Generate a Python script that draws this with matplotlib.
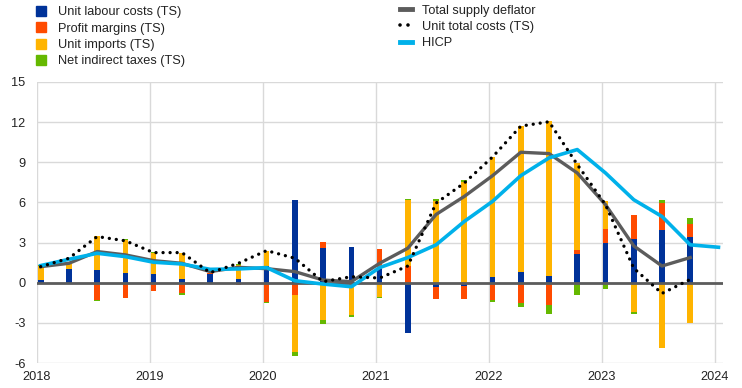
import numpy as np
import matplotlib
matplotlib.use("Agg")
import matplotlib.pyplot as plt
from matplotlib.patches import Patch
from matplotlib.lines import Line2D

# -------------------------------------------------------------------
# DATA (quarterly, 2018Q1 - 2023Q4; HICP up to 2024Q1)
# -------------------------------------------------------------------
quarters = [f"{y}Q{q}" for y in range(2018, 2024) for q in range(1, 5)]

unit_labour = [0.20, 1.03, 0.95, 0.75, 0.68, 0.28, 0.63, 0.28,
               1.25, 6.20, 2.62, 2.68, 1.00, -3.75, -0.30, -0.22,
               0.43, 0.80, 0.50, 2.15, 2.95, 3.28, 3.95, 3.40]
profit_margins = [0.00, -0.12, -1.30, -1.12, -0.62, -0.80, 0.10, -0.20,
                  -1.42, -0.92, 0.43, 0.00, 1.50, 1.25, -0.92, -1.00,
                  -1.30, -1.50, -1.67, 0.30, 1.08, 1.80, 2.00, 1.00]
unit_imports = [1.05, 0.35, 2.55, 2.45, 1.57, 1.92, 0.00, 1.05,
                1.15, -4.25, -2.80, -2.42, -1.05, 4.95, 6.08, 7.53,
                8.97, 10.90, 11.58, 6.50, 2.05, -2.17, -4.87, -3.00]
indirect_taxes = [0.05, 0.00, -0.07, 0.05, 0.05, -0.10, 0.00, 0.05,
                  -0.08, -0.30, -0.27, -0.15, -0.07, 0.07, 0.19, 0.17,
                  -0.12, -0.30, -0.68, -0.90, -0.45, -0.15, 0.25, 0.45]

supply_deflator = [1.20, 1.45, 2.33, 2.08, 1.65, 1.45, 0.83, 1.15,
                   1.05, 0.83, 0.20, 0.08, 1.45, 2.58, 5.10, 6.45,
                   8.00, 9.75, 9.65, 8.20, 5.83, 2.75, 1.25, 1.88]
unit_total_costs = [1.20, 1.83, 3.45, 3.13, 2.25, 2.25, 0.75, 1.45,
                    2.40, 1.83, 0.08, 0.45, 0.35, 1.25, 5.95, 7.45,
                    9.40, 11.70, 12.03, 8.83, 5.83, 1.08, -0.80, 0.25]
hicp = [1.28, 1.75, 2.20, 1.95, 1.53, 1.40, 1.00, 1.03,
        1.13, 0.15, -0.10, -0.30, 1.13, 1.88, 2.83, 4.58,
        6.08, 8.00, 9.33, 9.95, 8.20, 6.20, 4.95, 2.83, 2.65]

year_ticks = list(range(2018, 2025))

# -------------------------------------------------------------------
# STYLE
# -------------------------------------------------------------------
plt.rcParams["font.family"] = ["Liberation Sans", "DejaVu Sans"]
plt.rcParams["axes.unicode_minus"] = False
FS = 9.2
C_ULC = "#003299"
C_PM = "#FF4B00"
C_IMP = "#FFB400"
C_TAX = "#65B800"
C_DEF = "#5C5C5C"
C_HICP = "#00B1EA"
C_GRID = "#D9D9D9"
TXT = "#222222"

# bar positions in years (slightly right of the quarter start)
x_bar = np.array([2018 + i / 4 + 0.035 for i in range(len(quarters))])
x_hicp = np.array([2018 + i / 4 + 0.035 for i in range(len(hicp))])

fig = plt.figure(figsize=(7.42, 3.88), dpi=100)
ax = fig.add_axes([0.0495, 0.0644, 0.9249, 0.7243])

# stacked bars: positives up from zero, negatives down from zero
components = [(unit_labour, C_ULC), (profit_margins, C_PM),
              (unit_imports, C_IMP), (indirect_taxes, C_TAX)]
pos_base = np.zeros(len(quarters))
neg_base = np.zeros(len(quarters))
for vals, col in components:
    v = np.array(vals)
    pos = np.where(v > 0, v, 0)
    neg = np.where(v < 0, v, 0)
    ax.bar(x_bar, pos, bottom=pos_base, width=0.05, color=col, zorder=3)
    ax.bar(x_bar, neg, bottom=neg_base, width=0.05, color=col, zorder=3)
    pos_base += pos
    neg_base += neg

ax.axhline(0, color=C_DEF, lw=2, zorder=4)

ax.plot(x_bar, supply_deflator, color=C_DEF, lw=2.4, zorder=5)
ax.plot(x_hicp, hicp, color=C_HICP, lw=2.6, zorder=6)
ax.plot(x_bar, unit_total_costs, color="black", lw=2.4,
        linestyle=(0, (0.01, 2.1)), dash_capstyle="round", zorder=7)

ax.set_xlim(2018, 2024.075)
ax.set_ylim(-6, 15)
ax.set_yticks(range(-6, 16, 3))
ax.set_xticks(year_ticks)
ax.set_xticklabels([str(y) for y in year_ticks])
ax.grid(True, color=C_GRID, lw=1, zorder=0)
ax.set_axisbelow(True)
for s in ax.spines.values():
    s.set_visible(False)
ax.tick_params(length=0, labelsize=FS, colors=TXT, pad=6)
ax.tick_params(axis="y", pad=8)

# -------------------------------------------------------------------
# LEGENDS
# -------------------------------------------------------------------
bar_handles = [Patch(color=C_ULC), Patch(color=C_PM),
               Patch(color=C_IMP), Patch(color=C_TAX)]
bar_labels = ["Unit labour costs (TS)", "Profit margins (TS)",
              "Unit imports (TS)", "Net indirect taxes (TS)"]
fig.legend(bar_handles, bar_labels, loc="upper left",
           bbox_to_anchor=(0.048, 0.985), frameon=False, fontsize=FS,
           borderpad=0, borderaxespad=0, handlelength=0.85,
           handleheight=0.85, handletextpad=0.9, labelspacing=0.3,
           labelcolor=TXT)

line_handles = [Line2D([], [], color=C_DEF, lw=3.5),
                Line2D([], [], color="black", lw=2.6,
                       linestyle=(0, (0.01, 2.2)), dash_capstyle="round"),
                Line2D([], [], color=C_HICP, lw=3.5)]
line_labels = ["Total supply deflator", "Unit total costs (TS)", "HICP"]
fig.legend(line_handles, line_labels, loc="upper left",
           bbox_to_anchor=(0.539, 0.988), frameon=False, fontsize=FS,
           borderpad=0, borderaxespad=0, handlelength=0.95,
           handletextpad=0.8, labelspacing=0.33, labelcolor=TXT)

fig.savefig("out.png", dpi=100)
